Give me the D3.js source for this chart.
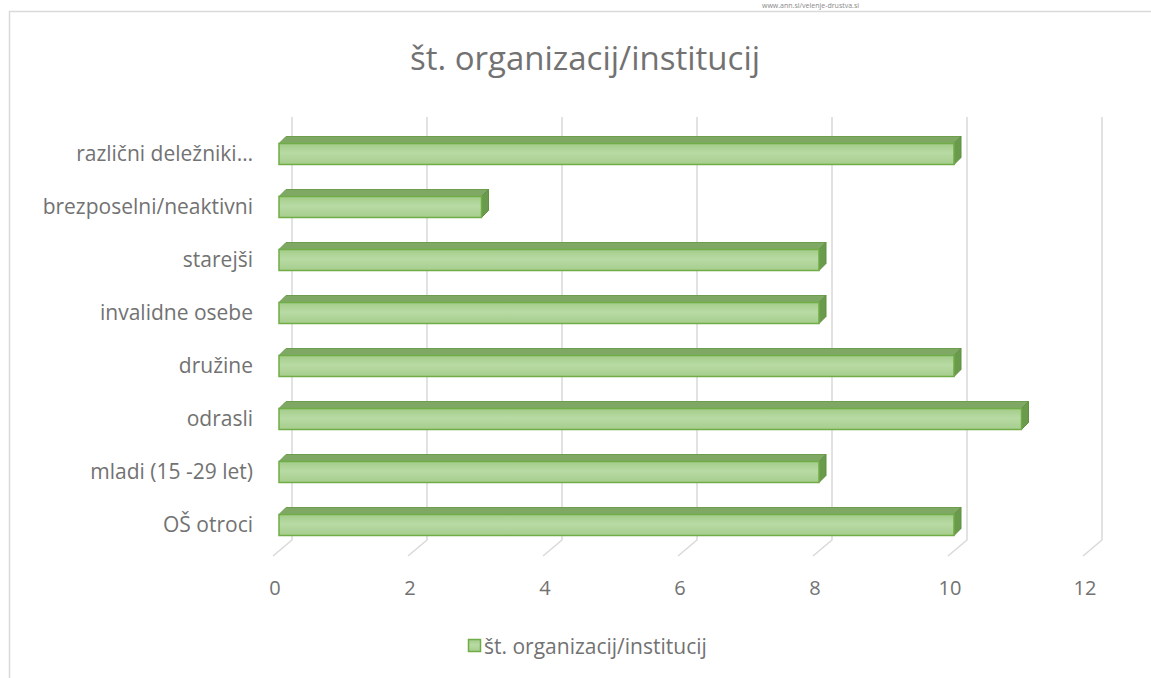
<!DOCTYPE html>
<html>
<head>
<meta charset="utf-8">
<script src="https://cdn.jsdelivr.net/npm/d3@7"></script>
<style>
  body { margin: 0; background: #fff; }
  svg { font-family: 'Open Sans', 'Liberation Sans', sans-serif; }
</style>
</head>
<body>
<div id="chart"></div>
<script>
const categories = [
  'različni deležniki…',
  'brezposelni/neaktivni',
  'starejši',
  'invalidne osebe',
  'družine',
  'odrasli',
  'mladi (15 -29 let)',
  'OŠ otroci'
]
const values = [10, 3, 8, 8, 10, 11, 8, 10]
const ticks = [0, 2, 4, 6, 8, 10, 12]
const seriesName = 'št. organizacij/institucij'
const title = 'št. organizacij/institucij'

const width = 1151
const height = 678
const textColor = '#727272'

const svg = d3.select('#chart')
  .append('svg')
  .attr('width', width)
  .attr('height', height)

// gradient for bar front faces
const defs = svg.append('defs')
const grad = defs.append('linearGradient')
  .attr('id', 'barFront')
  .attr('x1', 0).attr('y1', 0).attr('x2', 0).attr('y2', 1)
grad.append('stop').attr('offset', '0%').attr('stop-color', '#a3cc89')
grad.append('stop').attr('offset', '45%').attr('stop-color', '#b8daa4')
grad.append('stop').attr('offset', '100%').attr('stop-color', '#a6cd8d')

// faint page header text
svg.append('text')
  .attr('x', 762)
  .attr('y', 8)
  .attr('font-size', 7)
  .attr('fill', '#888')
  .text('www.ann.si/velenje-drustva.si')

// chart area border
svg.append('path')
  .attr('d', `M9.5,${height} V11.5 H${width}`)
  .attr('fill', 'none')
  .attr('stroke', '#d9d9d9')
  .attr('stroke-width', 1.5)

svg.append('text')
  .attr('x', 585)
  .attr('y', 70)
  .attr('text-anchor', 'middle')
  .attr('font-size', 33)
  .attr('fill', textColor)
  .text(title)

// 3D geometry: back wall / front edge / bar plane offsets
const depth = { dx: 19, dy: 16 }
const backLeft = 292
const barLeft = 279
const x = d3.scaleLinear().domain([0, 12]).range([0, 810])
const y = d3.scaleBand().domain(categories).range([127.5, 551.5])
const wallTop = 117
const wallBottom = 540

const grid = svg.append('g')
ticks.forEach(t => {
  const bx = backLeft + x(t)
  grid.append('path')
    .attr('d', `M${bx},${wallTop} V${wallBottom} L${bx - depth.dx},${wallBottom + depth.dy}`)
    .attr('fill', 'none')
    .attr('stroke', '#d9d9d9')
    .attr('stroke-width', 1.5)
})

// tick labels along front edge
svg.append('g')
  .selectAll('text')
  .data(ticks)
  .enter()
  .append('text')
  .attr('x', d => backLeft - depth.dx + x(d) + 2)
  .attr('y', 595)
  .attr('text-anchor', 'middle')
  .attr('font-size', 20)
  .attr('fill', textColor)
  .text(d => d)

// category labels
svg.append('g')
  .selectAll('text')
  .data(categories)
  .enter()
  .append('text')
  .attr('x', 253)
  .attr('y', d => y(d) + y.bandwidth() / 2 + 7)
  .attr('text-anchor', 'end')
  .attr('font-size', 21)
  .attr('fill', textColor)
  .text(d => d)

// bars
const bh = 21
const bd = 7
const bars = svg.append('g')
  .selectAll('.bar')
  .data(categories.map((c, i) => ({ c, v: values[i] })))
  .enter()
  .append('g')
  .attr('class', 'bar')

bars.each(function (d) {
  const g = d3.select(this)
  const x0 = barLeft
  const x1 = barLeft + x(d.v)
  const yt = y(d.c) + y.bandwidth() / 2 - bh / 2
  const yb = yt + bh
  // top face
  g.append('path')
    .attr('d', `M${x0},${yt} L${x0 + bd},${yt - bd} L${x1 + bd},${yt - bd} L${x1},${yt} Z`)
    .attr('fill', '#7fa865')
    .attr('stroke', '#6e9d4e')
    .attr('stroke-width', 1)
  // side face
  g.append('path')
    .attr('d', `M${x1},${yt} L${x1 + bd},${yt - bd} L${x1 + bd},${yb - bd} L${x1},${yb} Z`)
    .attr('fill', '#6a9a4b')
    .attr('stroke', '#5f9140')
    .attr('stroke-width', 1)
  // front face
  g.append('rect')
    .attr('x', x0)
    .attr('y', yt)
    .attr('width', x1 - x0)
    .attr('height', bh)
    .attr('fill', 'url(#barFront)')
    .attr('stroke', '#70ad47')
    .attr('stroke-width', 1.5)
})

// legend
const legend = svg.append('g')
legend.append('rect')
  .attr('x', 468.5)
  .attr('y', 639.5)
  .attr('width', 12)
  .attr('height', 12)
  .attr('fill', 'url(#barFront)')
  .attr('stroke', '#70ad47')
  .attr('stroke-width', 1.5)
legend.append('text')
  .attr('x', 484)
  .attr('y', 654)
  .attr('font-size', 21)
  .attr('fill', textColor)
  .text(seriesName)
</script>
</body>
</html>
